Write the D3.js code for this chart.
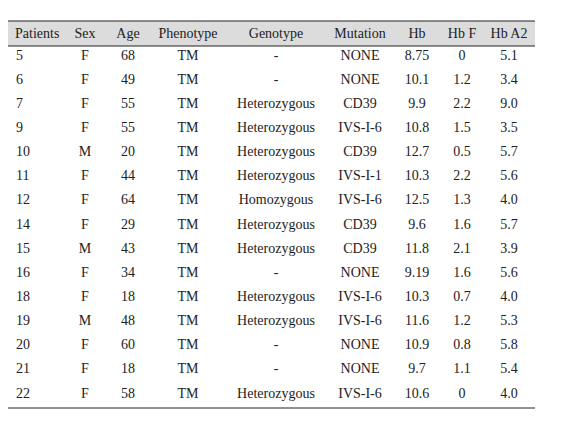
<!DOCTYPE html><html><head><meta charset="utf-8"><script src="https://cdn.jsdelivr.net/npm/d3@7"></script>
<style>body{margin:0;background:#fff}</style></head><body><svg id="c" width="562" height="438"></svg><script>
const headers=["Patients","Sex","Age","Phenotype","Genotype","Mutation","Hb","Hb F","Hb A2"];
const patients=["5","6","7","9","10","11","12","14","15","16","18","19","20","21","22"];
const sex=["F","F","F","F","M","F","F","F","M","F","F","M","F","F","F"];
const age=["68","49","55","55","20","44","64","29","43","34","18","48","60","18","58"];
const phenotype=patients.map(()=> "TM");
const genotype=["-","-","Heterozygous","Heterozygous","Heterozygous","Heterozygous","Homozygous","Heterozygous","Heterozygous","-","Heterozygous","Heterozygous","-","-","Heterozygous"];
const mutation=["NONE","NONE","CD39","IVS-I-6","CD39","IVS-I-1","IVS-I-6","CD39","CD39","NONE","IVS-I-6","IVS-I-6","NONE","NONE","IVS-I-6"];
const hb=["8.75","10.1","9.9","10.8","12.7","10.3","12.5","9.6","11.8","9.19","10.3","11.6","10.9","9.7","10.6"];
const hbf=["0","1.2","2.2","1.5","0.5","2.2","1.3","1.6","2.1","1.6","0.7","1.2","0.8","1.1","0"];
const hba2=["5.1","3.4","9.0","3.5","5.7","5.6","4.0","5.7","3.9","5.6","4.0","5.3","5.8","5.4","4.0"];
const cols=[patients,sex,age,phenotype,genotype,mutation,hb,hbf,hba2];
const colX=[16,85,128,188,276,360,417,462,509];
const anchors=["start","middle","middle","middle","middle","middle","middle","middle","middle"];
const svg=d3.select("#c");
const y=d3.scalePoint().domain(d3.range(patients.length)).range([55,393]);
const font="'Liberation Serif','DejaVu Serif',serif";
svg.append("rect").attr("x",8).attr("y",21).attr("width",527).attr("height",25).attr("fill","#dcdcdc");
svg.append("line").attr("x1",8).attr("x2",535).attr("y1",21).attr("y2",21).attr("stroke","#222").attr("stroke-width",1.2);
svg.append("line").attr("x1",8).attr("x2",535).attr("y1",46).attr("y2",46).attr("stroke","#222").attr("stroke-width",1);
svg.append("line").attr("x1",8).attr("x2",535).attr("y1",408).attr("y2",408).attr("stroke","#222").attr("stroke-width",1);
svg.selectAll(".h").data(headers).join("text").attr("x",(d,i)=>i==0?colX[0]-1:colX[i]).attr("y",33.5).attr("dominant-baseline","central")
 .attr("text-anchor",(d,i)=>anchors[i]).attr("font-family",font).attr("font-size",14).attr("fill","#222").text(d=>d);
cols.forEach((col,ci)=>{
 svg.selectAll(".c"+ci).data(col).join("text").attr("x",colX[ci]).attr("y",(d,i)=>y(i)).attr("dominant-baseline","central")
  .attr("text-anchor",anchors[ci]).attr("font-family",font).attr("font-size",14).attr("fill","#222").text(d=>d);
});
</script></body></html>
